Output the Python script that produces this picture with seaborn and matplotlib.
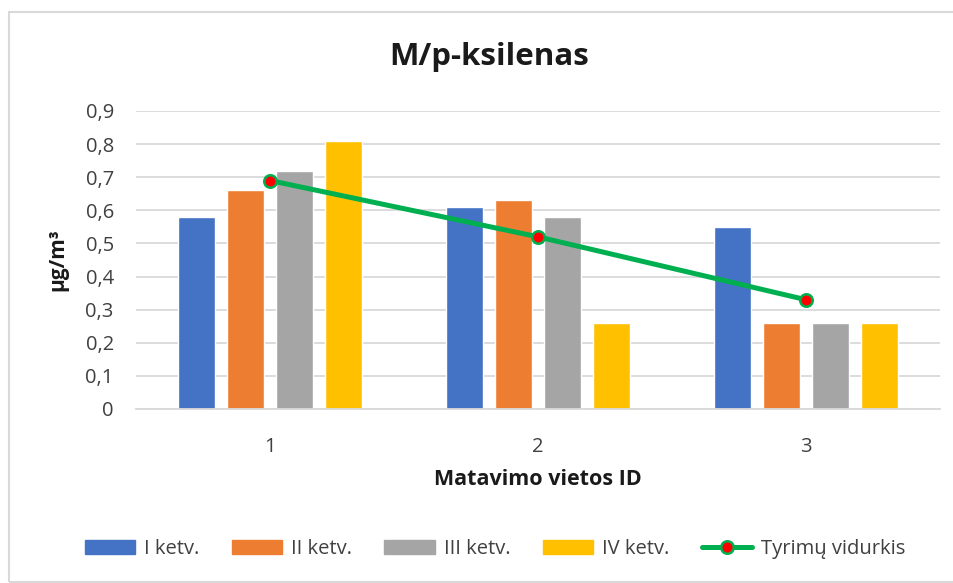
import matplotlib
matplotlib.use("Agg")
import matplotlib.pyplot as plt
import seaborn as sns
import pandas as pd
from matplotlib.patches import Rectangle
from matplotlib.lines import Line2D
from matplotlib.patches import Patch

# ---- data ----
categories = ["1", "2", "3"]
series_names = ["I ketv.", "II ketv.", "III ketv.", "IV ketv."]
q1 = [0.58, 0.61, 0.55]
q2 = [0.66, 0.63, 0.26]
q3 = [0.72, 0.58, 0.26]
q4 = [0.81, 0.26, 0.26]
average = [0.69, 0.52, 0.33]
avg_name = "Tyrimų vidurkis"
y_ticks = [0, 0.1, 0.2, 0.3, 0.4, 0.5, 0.6, 0.7, 0.8, 0.9]
y_tick_labels = ["0", "0,1", "0,2", "0,3", "0,4", "0,5", "0,6", "0,7", "0,8", "0,9"]

colors = ["#4472C4", "#ED7D31", "#A5A5A5", "#FFC000"]
green = "#00B050"
red = "#FF0000"

rows = []
for name, vals in zip(series_names, [q1, q2, q3, q4]):
    for c, v in zip(categories, vals):
        rows.append({"cat": c, "series": name, "value": v})
df = pd.DataFrame(rows)
df_avg = pd.DataFrame({"cat": categories, "value": average})

sns.set_theme(style="white")
plt.rcParams["font.family"] = ["Open Sans", "DejaVu Sans"]

fig = plt.figure(figsize=(9.54, 5.83), dpi=100)
ax = fig.add_axes([136 / 954, 1 - 409 / 583, (940 - 136) / 954, (409 - 111) / 583])

sns.barplot(data=df, x="cat", y="value", hue="series", order=categories,
            hue_order=series_names, palette=colors, width=0.727, gap=0.24,
            saturation=1, ax=ax, legend=False, errorbar=None, zorder=2)

sns.pointplot(data=df_avg, x="cat", y="value", order=categories, color=green,
              ax=ax, markers="o", linestyles="-", errorbar=None,
              markersize=9, markerfacecolor=red, markeredgecolor=green,
              markeredgewidth=1.8, linewidth=3.6, zorder=4)
for ln in ax.lines:
    ln.set_markerfacecolor(red)
    ln.set_markeredgecolor(green)
    ln.set_zorder(5)

ax.set_xlim(-0.5, 2.5)
ax.set_ylim(0, 0.9)
ax.set_yticks(y_ticks)
ax.set_yticklabels(y_tick_labels)
ax.grid(axis="y", color="#D9D9D9", linewidth=1.3, zorder=0)
ax.set_axisbelow(True)
for s in ["top", "right", "left"]:
    ax.spines[s].set_visible(False)
ax.spines["bottom"].set_color("#D9D9D9")
ax.spines["bottom"].set_linewidth(1.3)
ax.tick_params(axis="both", length=0, labelsize=14.5, colors="#404040")
ax.tick_params(axis="y", pad=16)
ax.tick_params(axis="x", pad=20)

ax.set_xlabel("Matavimo vietos ID", fontsize=15.5, fontweight="bold", color="#1a1a1a", labelpad=9)
ax.set_ylabel("µg/m³", fontsize=15, fontweight="bold", color="#1a1a1a", labelpad=12)

fig.text(489 / 954, 1 - 57 / 583, "M/p-ksilenas", ha="center", va="center",
         fontsize=22.5, fontweight="bold", color="#1a1a1a")

# legend
handles = [Patch(facecolor=c, edgecolor=c) for c in colors]
handles.append(Line2D([0], [0], color=green, linewidth=3.6, marker="o",
                      markersize=9, markerfacecolor=red, markeredgecolor=green,
                      markeredgewidth=1.8))
leg = fig.legend(handles, series_names + [avg_name], loc="center",
                 bbox_to_anchor=(495 / 954, 1 - 549 / 583), ncol=5, frameon=False,
                 fontsize=14.5, handlelength=2.5, handleheight=0.65,
                 columnspacing=1.6, handletextpad=0.45)
for t in leg.get_texts():
    t.set_color("#404040")

# chart border
fig.patches.append(Rectangle((9 / 954, 1 - 582 / 583), 2.0, (582 - 12) / 583,
                             transform=fig.transFigure, fill=False,
                             edgecolor="#D9D9D9", linewidth=1.5))

fig.savefig("out.png", dpi=100)
